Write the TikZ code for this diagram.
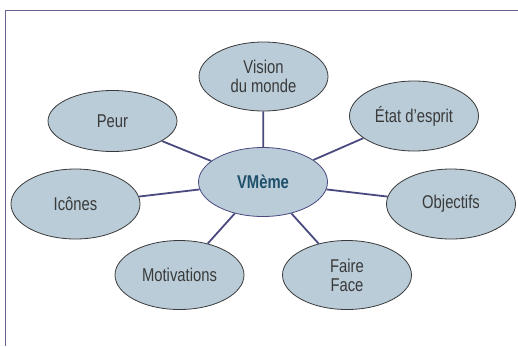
\documentclass[tikz,border=0pt]{standalone}
\usepackage{fontspec}
\setmainfont[FakeStretch=0.8]{Liberation Sans}
\usetikzlibrary{shapes.geometric}
\definecolor{bubble}{HTML}{B9CCD8}
\definecolor{rim}{HTML}{3A3A3A}
\definecolor{spoke}{HTML}{4A4A80}
\definecolor{label}{HTML}{3A3A3A}
\definecolor{hub}{HTML}{1E4F6B}
\begin{document}
\begin{tikzpicture}[x=1pt,y=-1pt,
  idea/.style={ellipse, draw=rim, line width=0.8pt, fill=bubble,
    minimum width=129pt, minimum height=69pt, inner sep=0pt,
    align=center, text=label, font=\fontsize{18.5}{19}\selectfont},
  core/.style={idea, draw=spoke, text=hub, font=\fontsize{18.5}{19}\selectfont\bfseries},
  link/.style={draw=spoke, line width=1.8pt},
  frame/.style={draw=spoke!85, line width=1.6pt}]
\useasboundingbox (0,0) rectangle (518,346);
\fill[white] (0,0) rectangle (518,346);
\coordinate (fc) at (5.5,10.5);
\coordinate (fr) at (518,10.5);
\coordinate (fb) at (5.5,346);
\draw[frame] (fr) -- (fc) -- (fb);

\node[core] (hub) at (263,182) {VMème};
\node[idea] (vision) at (263.5,76.5) {Vision\\du monde};
\node[idea, minimum height=61pt] (peur) at (112.5,121) {Peur};
\node[idea, minimum height=70pt] (etat) at (414,116) {État d’esprit};
\node[idea, minimum height=70pt] (icones) at (75.5,204) {Icônes};
\node[idea, minimum height=70pt] (objectifs) at (451,204) {Objectifs};
\node[idea] (motiv) at (179.5,275) {Motivations};
\node[idea] (faire) at (347,275) {Faire\\Face};

\foreach \n in {vision,peur,etat,icones,objectifs,motiv,faire}
  \draw[link] (hub) -- (\n);
\end{tikzpicture}
\end{document}
